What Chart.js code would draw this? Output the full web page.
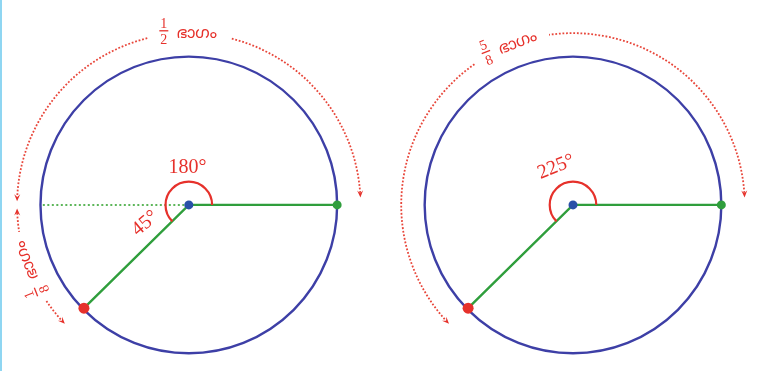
<!DOCTYPE html>
<html>
<head>
<meta charset="utf-8">
<script src="https://cdn.jsdelivr.net/npm/chart.js@4.4.1/dist/chart.umd.min.js"></script>
<style>
  html, body { margin: 0; padding: 0; background: #fff; }
  #wrap { width: 763px; height: 371px; }
</style>
</head>
<body>
<div id="wrap"><canvas id="angleChart" width="763" height="371"></canvas></div>
<script>
// ---- data (radius of each circle = 1 unit) ----
const figureCentres = [0, 2.59];              // x of each circle centre
const turnAngles = [225, 225];                // where the moving radius stops
const partAngles = [[180, 45], [225]];        // how the turn is split
const partFractions = [[['1', '2'], ['1', '8']], [['5', '8']]];
const partWord = 'ഭാഗം';
const angleLabels = [['180°', '45°'], ['225°']];

// ---- layout ----
const PX = 150.5;                             // pixels per unit
const X_MIN = -186 / PX, X_MAX = 577 / PX;
const Y_MIN = -165.5 / PX, Y_MAX = 205.5 / PX;
const ARROW_R = 1.158;
const MARK_R = 0.157;
const textGaps = [[{ mid: 90, half: 14 }, { mid: 201.5, half: 12.5 }], [{ mid: 111.5, half: 13.5 }]];
const labelSpots = [[{ a: 92, r: 0.25, rot: 0 }, { a: 203, r: 0.32, rot: -40 }], [{ a: 114, r: 0.28, rot: -22 }]];

const BLUE = '#3d3fa6', GREEN = '#2f9e3c', RED = '#e6312b', DOT_RED = '#e8463a', CENTRE = '#2950a8';

const rad = d => d * Math.PI / 180;
function polar(cx, r, a) {
    return { x: cx + r * Math.cos(rad(a)), y: r * Math.sin(rad(a)) };
}

// ---- drawing helpers ----
function dottedArc(ctx, ox, oy, r, a0, a1) {
    ctx.save();
    ctx.strokeStyle = DOT_RED;
    ctx.lineWidth = 1.8;
    ctx.setLineDash([1.8, 1.8]);
    ctx.beginPath();
    ctx.arc(ox, oy, r, -rad(a0), -rad(a1), true);
    ctx.stroke();
    ctx.restore();
}

function arrowHead(ctx, ox, oy, r, a, side) {
    const tx = ox + r * Math.cos(rad(a)), ty = oy - r * Math.sin(rad(a));
    // screen direction of travel at the tip
    let dx = -Math.sin(rad(a)), dy = -Math.cos(rad(a));
    if (side < 0) { dx = -dx; dy = -dy; }
    const len = 7, half = 3;
    const bx = tx - dx * len, by = ty - dy * len;
    ctx.save();
    ctx.fillStyle = RED;
    ctx.beginPath();
    ctx.moveTo(tx, ty);
    ctx.lineTo(bx - dy * half, by + dx * half);
    ctx.lineTo(tx - dx * len * 0.6, ty - dy * len * 0.6);
    ctx.lineTo(bx + dy * half, by - dx * half);
    ctx.closePath();
    ctx.fill();
    ctx.restore();
}

function fractionText(ctx, x, y, rot, frac, word) {
    ctx.save();
    ctx.translate(x, y);
    ctx.rotate(rot);
    ctx.fillStyle = RED;
    ctx.textAlign = 'center';
    ctx.textBaseline = 'middle';
    ctx.font = '14px "Liberation Serif", serif';
    ctx.fillText(frac[0], -25, -9);
    ctx.fillText(frac[1], -25, 7);
    ctx.fillRect(-29.5, -3, 9, 1.3);
    ctx.textAlign = 'left';
    ctx.font = '16px "Noto Sans Malayalam", "Noto Sans", sans-serif';
    ctx.fillText(word, -12, 2);
    ctx.restore();
}

// Circles, angle arcs, dotted arrows and labels around the scatter marks
const diagramPlugin = {
    id: 'diagram',
    beforeDraw(chart) {
        const ctx = chart.ctx;
        ctx.save();
        ctx.fillStyle = '#fff';
        ctx.fillRect(0, 0, chart.width, chart.height);
        ctx.fillStyle = '#8fd6f2';
        ctx.fillRect(0, 0, 2, chart.height);
        ctx.restore();
    },
    beforeDatasetsDraw(chart) {
        const ctx = chart.ctx, xs = chart.scales.x, ys = chart.scales.y;
        const unit = xs.getPixelForValue(1) - xs.getPixelForValue(0);
        ctx.save();
        ctx.strokeStyle = BLUE;
        ctx.lineWidth = 2.4;
        figureCentres.forEach(cx => {
            ctx.beginPath();
            ctx.arc(xs.getPixelForValue(cx), ys.getPixelForValue(0), unit, 0, Math.PI * 2);
            ctx.stroke();
        });
        ctx.restore();
    },
    afterDatasetsDraw(chart) {
        const ctx = chart.ctx, xs = chart.scales.x, ys = chart.scales.y;
        const unit = xs.getPixelForValue(1) - xs.getPixelForValue(0);

        figureCentres.forEach((cx, f) => {
            const ox = xs.getPixelForValue(cx), oy = ys.getPixelForValue(0);

            // angle marker
            ctx.save();
            ctx.strokeStyle = RED;
            ctx.lineWidth = 2.2;
            ctx.beginPath();
            ctx.arc(ox, oy, MARK_R * unit, 0, -rad(turnAngles[f]), true);
            ctx.stroke();
            ctx.restore();

            // degree labels
            angleLabels[f].forEach((txt, i) => {
                const s = labelSpots[f][i];
                ctx.save();
                ctx.translate(ox + s.r * unit * Math.cos(rad(s.a)), oy - s.r * unit * Math.sin(rad(s.a)));
                ctx.rotate(rad(s.rot));
                ctx.fillStyle = RED;
                ctx.font = '20px "Liberation Serif", serif';
                ctx.textAlign = 'center';
                ctx.textBaseline = 'middle';
                ctx.fillText(txt, 0, 0);
                ctx.restore();
            });

            // dotted arrows with part labels
            const R = ARROW_R * unit;
            let from = 0;
            partAngles[f].forEach((sweep, p) => {
                const to = from + sweep;
                const gap = textGaps[f][p];
                const a0 = from + (from === 0 ? 2.5 : 1.2), a1 = to - 1.2;
                dottedArc(ctx, ox, oy, R, a0 + 1.5, gap.mid - gap.half);
                dottedArc(ctx, ox, oy, R, gap.mid + gap.half, a1 - 1.5);
                arrowHead(ctx, ox, oy, R, a0, -1);
                arrowHead(ctx, ox, oy, R, a1, 1);
                const m = rad(gap.mid);
                const rot = Math.atan2(Math.cos(m), Math.sin(m));
                fractionText(ctx, ox + R * Math.cos(m), oy - R * Math.sin(m), rot, partFractions[f][p], partWord);
                from = to;
            });
        });
    }
};

// ---- datasets ----
const datasets = [];
datasets.push({
    data: figureCentres.map(cx => ({ x: cx, y: 0 })),
    pointRadius: 4.5, pointBackgroundColor: CENTRE, pointBorderWidth: 0
});
datasets.push({
    data: figureCentres.map(cx => polar(cx, 1, 0)),
    pointRadius: 4.5, pointBackgroundColor: GREEN, pointBorderWidth: 0
});
datasets.push({
    data: figureCentres.map((cx, f) => polar(cx, 1, turnAngles[f])),
    pointRadius: 5.5, pointBackgroundColor: RED, pointBorderWidth: 0
});
figureCentres.forEach((cx, f) => {
    datasets.push({
        data: [polar(cx, 1, turnAngles[f]), { x: cx, y: 0 }, polar(cx, 1, 0)],
        showLine: true, borderColor: GREEN, borderWidth: 2.4, pointRadius: 0
    });
    if (partAngles[f].length > 1) {
        datasets.push({
            data: [{ x: cx, y: 0 }, polar(cx, 1, partAngles[f][0])],
            showLine: true, borderColor: '#5db65a', borderWidth: 2, borderDash: [2, 2.5], pointRadius: 0
        });
    }
});

new Chart(document.getElementById('angleChart'), {
    type: 'scatter',
    data: { datasets: datasets },
    options: {
        responsive: false,
        animation: false,
        layout: { padding: 0 },
        events: [],
        plugins: { legend: { display: false }, tooltip: { enabled: false } },
        scales: {
            x: { type: 'linear', min: X_MIN, max: X_MAX, display: false },
            y: { type: 'linear', min: Y_MIN, max: Y_MAX, display: false }
        }
    },
    plugins: [diagramPlugin]
});
</script>
</body>
</html>
